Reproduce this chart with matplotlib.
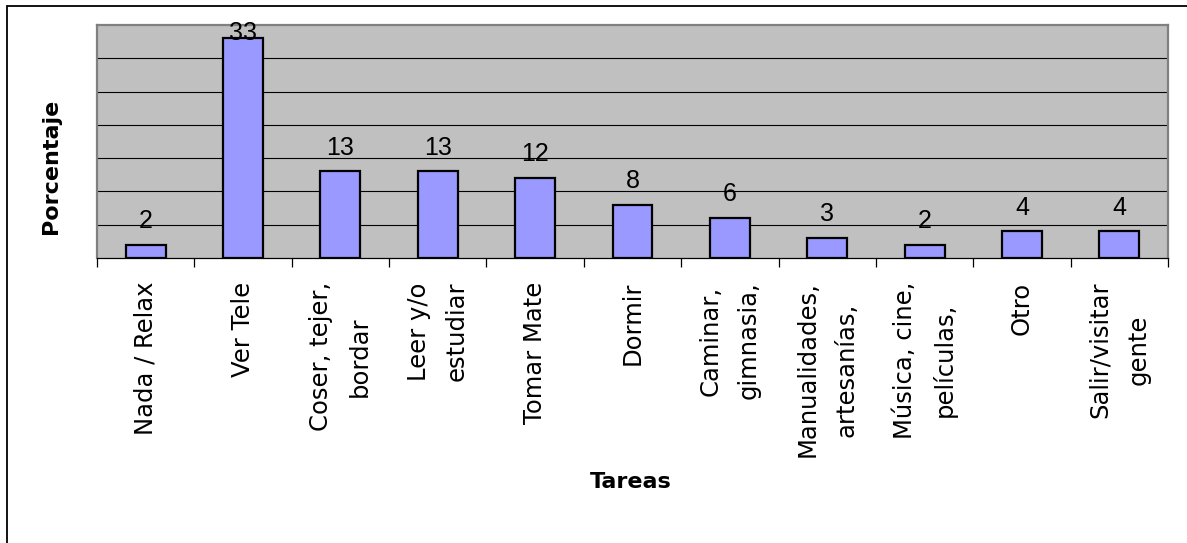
import matplotlib
matplotlib.use("Agg")
import matplotlib.pyplot as plt
import numpy as np
from matplotlib.patches import Rectangle

# Datos del gráfico
categorias = [
    "Nada / Relax",
    "Ver Tele",
    "Coser, tejer,\nbordar",
    "Leer y/o\nestudiar",
    "Tomar Mate",
    "Dormir",
    "Caminar,\ngimnasia,",
    "Manualidades,\nartesanías,",
    "Música, cine,\npelículas,",
    "Otro",
    "Salir/visitar\ngente",
]
porcentajes = [2, 33, 13, 13, 12, 8, 6, 3, 2, 4, 4]

EJE_Y_MAX = 35
PASO_GRILLA = 5

W, H = 1187, 543
fig = plt.figure(figsize=(W / 100, H / 100), dpi=100)
fig.patch.set_facecolor("white")

# Marco exterior del área del gráfico
fig.add_artist(Rectangle((7 / W, -0.1), 1.2, (H - 6) / H + 0.1,
                         transform=fig.transFigure, fill=False,
                         edgecolor="black", linewidth=1.3))

ax = fig.add_axes([97 / W, 1 - 258 / H, (1168 - 97) / W, (258 - 25) / H])
ax.set_facecolor("#C0C0C0")

x = np.arange(len(categorias))
valores = np.array(porcentajes, dtype=float)

ax.bar(x, valores, width=0.41, color="#9999FF", edgecolor="black",
       linewidth=1.6, zorder=3)

ax.set_xlim(-0.5, len(categorias) - 0.5)
ax.set_ylim(0, EJE_Y_MAX)

# Líneas de división horizontales
for y in np.arange(PASO_GRILLA, EJE_Y_MAX, PASO_GRILLA):
    ax.axhline(y, color="black", linewidth=0.8, zorder=1)

ax.set_yticks([])

# Rótulos de categorías
ax.set_xticks(x, categorias)
ax.tick_params(axis="x", which="major", length=0, pad=17)
ax.set_xticks(np.arange(-0.5, len(categorias), 1), minor=True)
ax.tick_params(axis="x", which="minor", length=6.5, width=0.9,
               direction="out", color="black")
for lab in ax.get_xticklabels():
    lab.set_rotation(90)
    lab.set_ha("center")
    lab.set_va("top")
    lab.set_multialignment("center")
    lab.set_linespacing(1.75)
    lab.set_fontsize(17.5)
    lab.set_family("DejaVu Sans")

for lado in ("left", "top", "right"):
    ax.spines[lado].set_color("#808080")
    ax.spines[lado].set_linewidth(1.6)
ax.spines["bottom"].set_color("black")
ax.spines["bottom"].set_linewidth(0.9)

# Etiquetas de valores sobre las barras
base_etiquetas = np.minimum(valores + 2.5, EJE_Y_MAX - 2.25)
for xi, v, yb in zip(x, porcentajes, base_etiquetas):
    ax.text(xi, yb, str(v), ha="center", va="baseline", fontsize=18,
            family="Liberation Sans", color="black", zorder=4, clip_on=False)

# Títulos de los ejes
fig.text(51 / W, 1 - 166 / H, "Porcentaje", rotation=90, ha="center",
         va="center", fontsize=16, fontweight="bold", family="DejaVu Sans")
fig.text(631 / W, 1 - 482 / H, "Tareas", ha="center", va="center",
         fontsize=16, fontweight="bold", family="DejaVu Sans")

fig.savefig("out.png", dpi=100)
